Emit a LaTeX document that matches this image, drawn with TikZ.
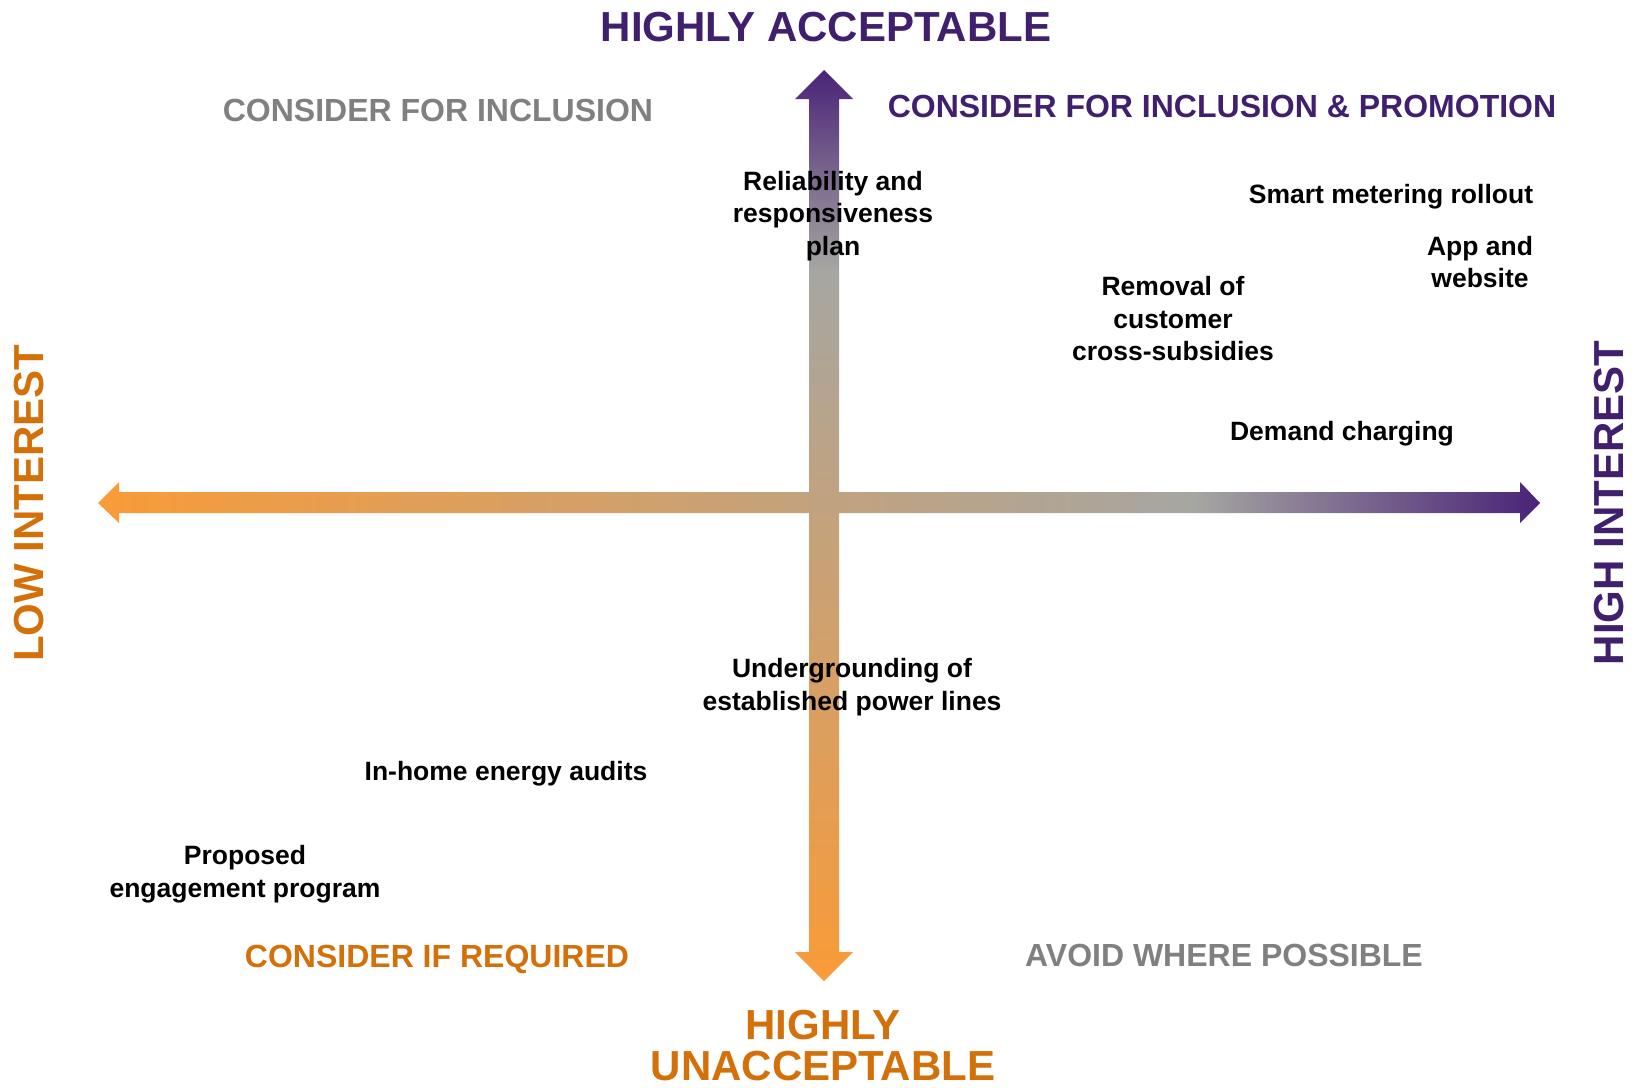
\documentclass[tikz,border=0pt]{standalone}
\usepackage{fontspec}
\setmainfont{Liberation Sans}
\definecolor{arOrange}{HTML}{F99B38}
\definecolor{arGray}{HTML}{A6A6A2}
\definecolor{arPurple}{HTML}{4A2378}
\definecolor{txPurple}{HTML}{3F1F6E}
\definecolor{txOrange}{HTML}{D4700A}
\definecolor{txGray}{HTML}{808080}
\pgfdeclarehorizontalshading{hbar}{100bp}{color(0bp)=(arOrange); color(25bp)=(arOrange); color(63bp)=(arGray); color(75bp)=(arPurple); color(100bp)=(arPurple)}
\pgfdeclareverticalshading{vbar}{100bp}{color(0bp)=(arOrange); color(25bp)=(arOrange); color(64bp)=(arGray); color(75bp)=(arPurple); color(100bp)=(arPurple)}
\begin{document}
\begin{tikzpicture}[x=1pt,y=-1pt,
  item/.style={font=\fontsize{26.5}{32.5}\bfseries, align=center, text=black, inner sep=0pt},
  quad/.style={font=\fontsize{32}{36}\bfseries, inner sep=0pt},
  head/.style={font=\fontsize{42}{41}\bfseries, align=center, inner sep=0pt}]
\useasboundingbox (0,0) rectangle (1638,1087);

% axes
\path[shading=hbar] (98,503) -- (119,482) -- (119,492) -- (1520,492) -- (1520,482) -- (1540,503)
  -- (1520,523) -- (1520,513) -- (119,513) -- (119,523) -- cycle;
\path[shading=vbar] (824,70) -- (853,99) -- (839,99) -- (839,952) -- (853,952) -- (824,981)
  -- (795,952) -- (809,952) -- (809,99) -- (795,99) -- cycle;

% axis titles
\node[head, text=txPurple] (acc) at (826,27) {HIGHLY ACCEPTABLE};
\node[head, text=txOrange] (unacc) at (823,1046) {HIGHLY\\UNACCEPTABLE};
\node[head, text=txOrange, rotate=90] (low) at (29,503) {LOW INTEREST};
\node[head, text=txPurple, rotate=90] (high) at (1609,503) {HIGH INTEREST};

% quadrants
\node[quad, text=txGray] (incl) at (438,110) {CONSIDER FOR INCLUSION};
\node[quad, text=txPurple] (promo) at (1222,106) {CONSIDER FOR INCLUSION \& PROMOTION};
\node[quad, text=txOrange] (req) at (437,959) {CONSIDER IF REQUIRED};
\node[quad, text=txGray] (avoid) at (1224,955) {AVOID WHERE POSSIBLE};

% initiatives
\node[item] (rel) at (833,216) {Reliability and\\responsiveness\\plan};
\node[item] (smart) at (1391,197) {Smart metering rollout};
\node[item] (app) at (1480,262) {App and\\website};
\node[item] (rem) at (1173,319) {Removal of\\customer\\cross-subsidies};
\node[item] (dem) at (1342,434) {Demand charging};
\node[item] (under) at (852,687) {Undergrounding of\\established power lines};
\node[item] (audit) at (506,774) {In-home energy audits};
\node[item] (eng) at (245,874) {Proposed\\engagement program};
\end{tikzpicture}
\end{document}
